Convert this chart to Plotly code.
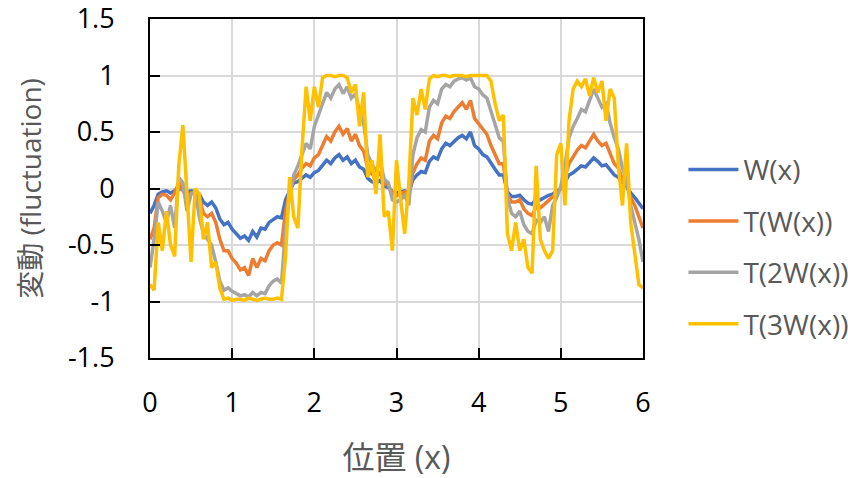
import numpy as np
import plotly.graph_objects as go

# Sample positions along x (step 0.05 from 0 to 6)
x_pos = np.round(np.arange(121) * 0.05, 2)

# W(x)
w_vals = [
    -0.22, -0.15, -0.05, -0.03, -0.02, -0.04, -0.02, 0.00, -0.01, -0.03,
    -0.02, -0.03, -0.05, -0.12, -0.15, -0.12, -0.17, -0.27, -0.32, -0.30,
    -0.36, -0.40, -0.44, -0.42, -0.46, -0.38, -0.43, -0.35, -0.36, -0.30,
    -0.27, -0.25, -0.26, -0.10, -0.02, 0.05, 0.06, 0.09, 0.12, 0.10,
    0.14, 0.16, 0.20, 0.25, 0.22, 0.27, 0.30, 0.25, 0.28, 0.22,
    0.25, 0.19, 0.17, 0.09, 0.06, 0.05, 0.07, 0.02, 0.01, -0.03,
    -0.04, -0.03, -0.02, -0.04, 0.08, 0.12, 0.15, 0.14, 0.24, 0.28,
    0.26, 0.35, 0.40, 0.38, 0.42, 0.45, 0.47, 0.44, 0.50, 0.38,
    0.35, 0.30, 0.28, 0.22, 0.17, 0.12, 0.12, -0.03, -0.07, -0.07,
    -0.06, -0.10, -0.13, -0.14, -0.09, -0.10, -0.08, -0.06, -0.05, -0.02,
    0.00, 0.06, 0.12, 0.14, 0.17, 0.20, 0.19, 0.23, 0.27, 0.24,
    0.20, 0.21, 0.16, 0.12, 0.10, 0.04, 0.02, -0.04, -0.08, -0.13,
    -0.18,
]

# T(W(x))
t1_vals = [
    -0.45, -0.35, -0.08, -0.05, -0.06, -0.10, -0.04, 0.05, -0.02, -0.08,
    -0.04, -0.05, -0.08, -0.22, -0.25, -0.22, -0.30, -0.45, -0.55, -0.55,
    -0.62, -0.66, -0.72, -0.70, -0.77, -0.62, -0.70, -0.62, -0.64, -0.55,
    -0.50, -0.48, -0.50, -0.20, -0.03, 0.08, 0.12, 0.18, 0.22, 0.20,
    0.27, 0.30, 0.38, 0.46, 0.42, 0.50, 0.55, 0.48, 0.53, 0.42,
    0.48, 0.38, 0.33, 0.18, 0.13, 0.10, 0.14, 0.05, 0.03, -0.04,
    -0.06, -0.05, -0.03, -0.07, 0.14, 0.22, 0.27, 0.25, 0.42, 0.47,
    0.44, 0.58, 0.64, 0.62, 0.68, 0.72, 0.76, 0.70, 0.78, 0.62,
    0.57, 0.52, 0.48, 0.38, 0.30, 0.22, 0.22, -0.05, -0.12, -0.12,
    -0.10, -0.18, -0.22, -0.24, -0.16, -0.17, -0.14, -0.11, -0.08, -0.04,
    0.00, 0.10, 0.22, 0.28, 0.34, 0.38, 0.36, 0.42, 0.48, 0.42,
    0.38, 0.40, 0.30, 0.22, 0.18, 0.08, 0.04, -0.08, -0.15, -0.25,
    -0.35,
]

# T(2W(x))
t2_vals = [
    -0.70, -0.45, -0.12, -0.20, -0.30, -0.15, -0.35, 0.10, 0.05, -0.20,
    -0.05, -0.02, -0.25, -0.40, -0.45, -0.50, -0.65, -0.82, -0.90, -0.88,
    -0.91, -0.93, -0.95, -0.94, -0.96, -0.92, -0.95, -0.92, -0.93, -0.86,
    -0.82, -0.80, -0.84, -0.35, -0.05, 0.12, 0.20, 0.30, 0.40, 0.35,
    0.55, 0.65, 0.75, 0.85, 0.80, 0.88, 0.92, 0.84, 0.90, 0.80,
    0.84, 0.68, 0.58, 0.30, 0.22, 0.15, 0.25, 0.08, 0.05, -0.10,
    -0.12, -0.10, -0.06, -0.15, 0.30, 0.45, 0.52, 0.50, 0.72, 0.78,
    0.75, 0.88, 0.92, 0.90, 0.95, 0.97, 0.98, 0.96, 0.98, 0.90,
    0.88, 0.83, 0.80, 0.68, 0.55, 0.45, 0.42, -0.08, -0.22, -0.25,
    -0.20, -0.32, -0.38, -0.40, -0.28, -0.30, -0.25, -0.38, -0.15, -0.08,
    0.02, 0.20, 0.45, 0.55, 0.62, 0.70, 0.68, 0.78, 0.88, 0.80,
    0.72, 0.75, 0.58, 0.45, 0.35, 0.18, 0.08, -0.15, -0.30, -0.45,
    -0.65,
]

# T(3W(x))
t3_vals = [
    -0.85, -0.90, -0.30, -0.55, -0.20, -0.50, -0.60, 0.20, 0.56, -0.10,
    -0.65, 0.00, -0.05, -0.45, -0.30, -0.70, -0.65, -0.88, -0.98, -0.97,
    -0.99, -0.98, -0.98, -0.99, -0.97, -0.98, -0.99, -0.98, -0.97, -0.98,
    -0.98, -0.97, -0.98, -0.60, 0.10, -0.25, -0.35, 0.35, 0.90, 0.60,
    0.90, 0.72, 0.98, 1.00, 1.00, 0.99, 1.00, 1.00, 0.98, 0.85,
    0.92, 0.55, 0.85, 0.10, 0.25, -0.05, 0.48, -0.25, -0.20, -0.55,
    0.25, -0.10, -0.40, 0.05, 0.80, 0.65, 0.88, 0.70, 0.97, 1.00,
    0.99, 1.00, 1.00, 0.99, 1.00, 1.00, 1.00, 0.99, 1.00, 1.00,
    1.00, 1.00, 1.00, 0.95, 0.75, 0.60, 0.65, -0.40, -0.55, -0.30,
    -0.55, -0.45, -0.70, -0.75, 0.20, -0.45, -0.55, -0.62, -0.55, 0.30,
    0.40, -0.15, 0.60, 0.88, 0.95, 0.90, 0.97, 0.82, 0.98, 0.85,
    0.95, 0.60, 0.88, 0.80, 0.20, -0.15, 0.40, -0.30, -0.55, -0.85,
    -0.88,
]

series_names = ["W(x)", "T(W(x))", "T(2W(x))", "T(3W(x))"]
series_vals = [w_vals, t1_vals, t2_vals, t3_vals]
series_colors = ["#4472C4", "#ED7D31", "#A5A5A5", "#FFC000"]

x_ticks = [0, 1, 2, 3, 4, 5, 6]
y_ticks = [-1.5, -1, -0.5, 0, 0.5, 1, 1.5]
y_tick_text = ["-1.5", "-1", "-0.5", "0", "0.5", "1", "1.5"]

FONT = "Open Sans, Noto Sans CJK JP, sans-serif"

fig = go.Figure()
for name, vals, color in zip(series_names, series_vals, series_colors):
    fig.add_trace(go.Scatter(
        x=x_pos, y=vals, name=name, mode="lines",
        line=dict(color=color, width=3.5),
        legendgroup=name,
    ))

axis_common = dict(
    showline=True, linecolor="black", linewidth=2, mirror=True,
    ticks="inside", ticklen=10, tickwidth=2, tickcolor="black",
    showgrid=True, gridcolor="#d9d9d9", gridwidth=1.5,
    zeroline=False,
    ticklabeloverflow="allow",
    tickfont=dict(family=FONT, size=27, color="black"),
)

fig.update_layout(
    width=848, height=478,
    margin=dict(l=150, r=205, t=19, b=120, autoexpand=False),
    paper_bgcolor="white", plot_bgcolor="white",
    font=dict(family=FONT),
    xaxis=dict(
        range=[0, 6], tickvals=x_ticks,
        title=dict(text="位置 (x)", font=dict(family=FONT, size=32, color="#595959"), standoff=30),
        ticklabelstandoff=20,
        **axis_common,
    ),
    yaxis=dict(
        range=[-1.5, 1.5], tickvals=y_ticks, ticktext=y_tick_text,
        title=dict(text="変動 (fluctuation)", font=dict(family=FONT, size=28, color="#595959"), standoff=18),
        ticklabelstandoff=28,
        **axis_common,
    ),
    legend=dict(
        x=1.082, xanchor="left", y=0.328, yanchor="middle",
        font=dict(family=FONT, size=28, color="#595959"),
        itemwidth=50, tracegroupgap=12,
        bgcolor="rgba(0,0,0,0)",
    ),
)

fig.write_html("out.html")
